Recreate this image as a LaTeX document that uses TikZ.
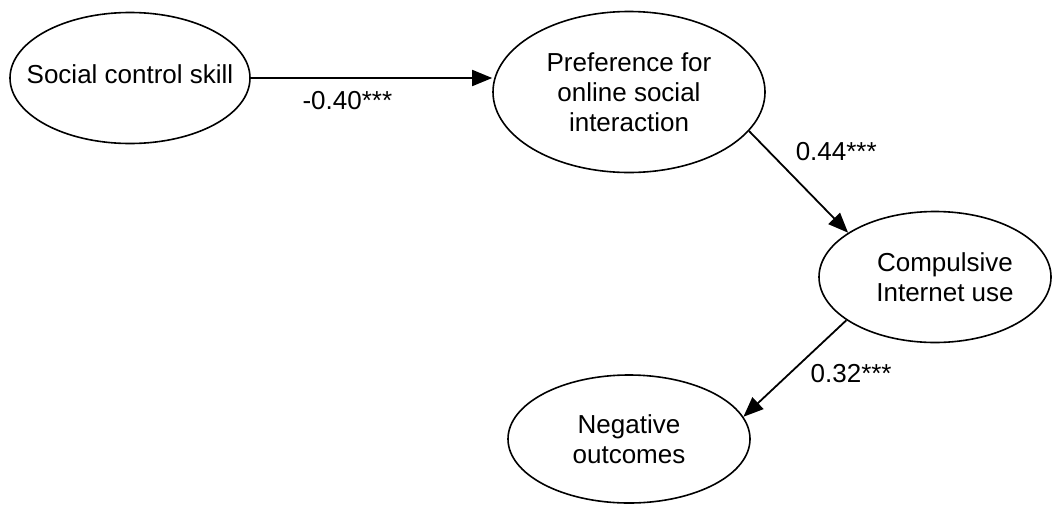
\documentclass[tikz,border=0pt]{standalone}
\usepackage{fontspec}
\setmainfont{Liberation Sans}
\usetikzlibrary{arrows.meta,shapes.geometric}
\tikzset{
  >={Triangle[length=10pt,width=8pt]},
  flow/.style={->,line width=0.9pt,draw=black},
  construct/.style={ellipse,draw=black,line width=0.8pt,inner sep=0pt},
  inside/.style={align=center,font=\fontsize{13}{15}\selectfont},
  coef/.style={font=\fontsize{13}{15}\selectfont,inner sep=2pt}
}

\begin{document}
\begin{tikzpicture}[x=0.5pt,y=-0.5pt]
  \useasboundingbox (0,0) rectangle (1053,504);
  \node[construct,minimum width=120pt,minimum height=65.5pt,
    label={[inside,yshift=2pt]center:Social control skill}] (skill) at (130,78) {};
  \node[construct,minimum width=136pt,minimum height=80.5pt,
    label={[inside]center:Preference for\\online social\\interaction}] (pref) at (629,92) {};
  \node[construct,minimum width=116pt,minimum height=65.5pt,
    label={[inside,xshift=5pt]center:Compulsive\\Internet use}] (cia) at (935,277) {};
  \node[construct,minimum width=121pt,minimum height=64pt,
    label={[inside]center:Negative\\outcomes}] (neg) at (629,439) {};
  \draw[flow] (skill.east) -- node[coef,pos=.4,below=4pt] {-0.40***} (skill.east -| pref.west);
  \draw[flow] (pref.-18.6) -- node[coef,pos=.2,right=11pt] {0.44***} (cia.153.7);
  \draw[flow] (cia.206) -- node[coef,pos=.55,right=8pt] {0.32***} (neg.11);
\end{tikzpicture}
\end{document}
